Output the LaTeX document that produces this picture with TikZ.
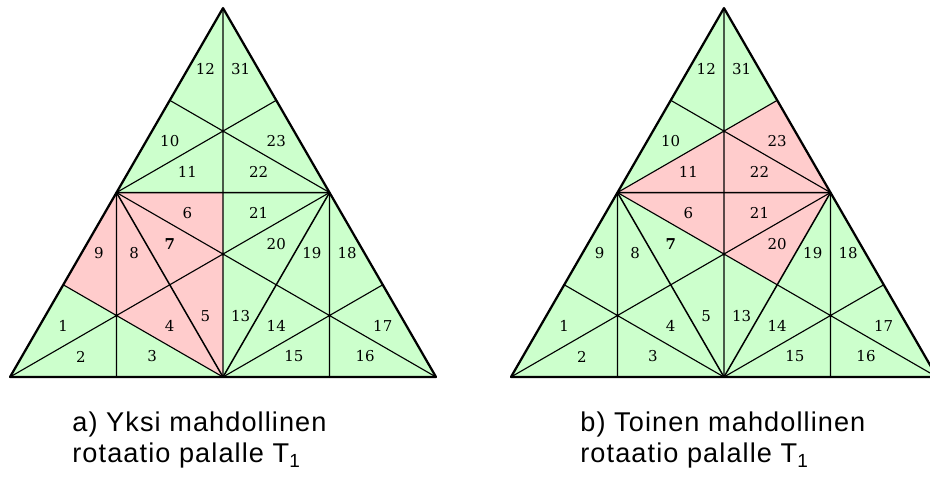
\documentclass[tikz,border=0pt]{standalone}
\usepackage{fontspec}
\setmainfont{Liberation Sans}
\newfontfamily\numfont{DejaVu Serif}
\usepackage{xcolor}
\usepackage{tikz}
\usetikzlibrary{calc}

\definecolor{piecegreen}{RGB}{204,255,204}
\definecolor{piecered}{RGB}{255,204,204}

\begin{document}
\begin{tikzpicture}[line join=round,
  outer/.style={line width=1.2pt},
  half/.style={line width=0.8pt},
  inner/.style={line width=0.6pt},
  num/.style={font=\numfont\fontsize{8}{9}\selectfont,inner sep=0pt},
  capt/.style={font=\addfontfeatures{LetterSpace=4}\fontsize{14.5}{16.6}\selectfont,
    align=left,anchor=north west,inner sep=0pt}]
  \useasboundingbox (-0.188,-1.878) rectangle (17.277,7.080);
  \foreach \fig/\dx/\redpath in {a/0.000/{(ML)--(T)--(MB)--(G1)--(L1)--cycle},
                                 b/9.408/{(ML)--(G0)--(U2)--(MR)--(C2)--(G2)--cycle}} {
    \begin{scope}[xshift=\dx cm]
      \coordinate (BL) at (0.000,0.000);
      \coordinate (BR) at (8.000,0.000);
      \coordinate (A) at (4.000,6.928);
      \coordinate (ML) at (2.000,3.464);
      \coordinate (MR) at (6.000,3.464);
      \coordinate (MB) at (4.000,0.000);
      \coordinate (T) at (4.000,3.464);
      \coordinate (U1) at (3.000,5.196);
      \coordinate (U2) at (5.000,5.196);
      \coordinate (L1) at (1.000,1.732);
      \coordinate (C1) at (3.000,1.732);
      \coordinate (C2) at (5.000,1.732);
      \coordinate (R1) at (7.000,1.732);
      \coordinate (B1) at (2.000,0.000);
      \coordinate (B2) at (6.000,0.000);
      \coordinate (G0) at (4.000,4.619);
      \coordinate (G1) at (2.000,1.155);
      \coordinate (G2) at (4.000,2.309);
      \coordinate (G3) at (6.000,1.155);
      \fill[piecegreen] (BL) -- (BR) -- (A) -- cycle;
      \fill[piecered] \redpath;
      % medians of the four small triangles
      \draw[inner] (A) -- (MB) (ML) -- (B1) (MR) -- (B2)
        (ML) -- (U2) (MR) -- (U1) (BL) -- (C1) (MB) -- (L1)
        (ML) -- (C2) (MR) -- (C1) (MB) -- (R1) (BR) -- (C2);
      \draw[half] (ML) -- (MR) -- (MB) -- cycle;
      \draw[outer] (BL) -- (BR) -- (A) -- cycle;
      \foreach \n/\x/\y in {1/1.000/0.962, 2/1.333/0.385, 3/2.667/0.385, 4/3.000/0.962,
          5/3.667/1.150, 6/3.333/3.079, 7/3.000/2.502, 8/2.333/2.320, 9/1.667/2.320,
          10/3.000/4.426, 11/3.333/3.849, 12/3.667/5.780, 13/4.333/1.150, 14/5.000/0.962,
          15/5.333/0.385, 16/6.667/0.385, 17/7.000/0.962, 18/6.333/2.320, 19/5.667/2.320,
          20/5.000/2.502, 21/4.667/3.079, 22/4.667/3.849, 23/5.000/4.426, 31/4.333/5.780}
        \node[num] (\fig\n) at (\x,\y) {\ifnum\n=7 \bfseries\fi\n};
    \end{scope}
  }
  \node[capt] (capta) at (1.164,-0.655) {a) Yksi mahdollinen\\rotaatio palalle T\textsubscript{1}};
  \node[capt] (captb) at (10.704,-0.655) {b) Toinen mahdollinen\\rotaatio palalle T\textsubscript{1}};
\end{tikzpicture}
\end{document}
